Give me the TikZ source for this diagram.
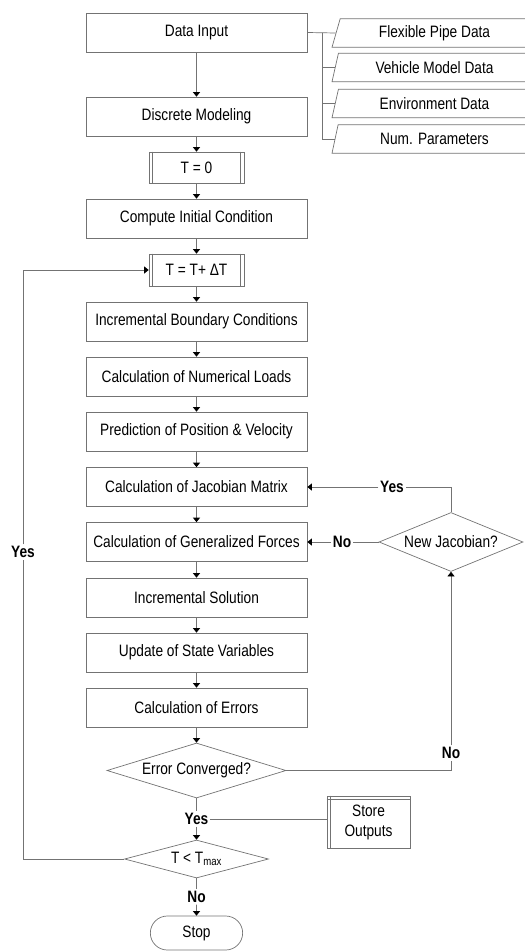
\documentclass[tikz,border=0pt]{standalone}
\usepackage{fontspec}
\setmainfont{Liberation Sans}[FakeStretch=0.83]
\usetikzlibrary{arrows.meta}
\usetikzlibrary{shapes.geometric, shapes.misc, positioning}

\begin{document}
\begin{tikzpicture}[x=1pt,y=-1pt,>={Triangle[length=4.5pt,width=7pt,black]},
                line width=0.7pt,
                every node/.style={font=\fontsize{16.5}{20}\selectfont},
                procbox/.style={rectangle,draw=black!55,minimum width=221pt,minimum height=39pt,inner sep=0pt},
                predef/.style={rectangle,draw=black!55,minimum width=95pt,minimum height=31pt,inner sep=0pt},
                decision/.style={diamond,draw=black!55,inner sep=0pt},
                datain/.style={trapezium,trapezium left angle=62,trapezium right angle=118,
                    trapezium stretches body,draw=black!55,minimum width=205pt,minimum height=28.5pt,inner sep=0pt},
                answer/.style={font=\fontsize{16.5}{20}\selectfont\bfseries,fill=white,inner sep=1.5pt},
                line/.style={draw=black!55},
                flow/.style={draw=black!55,->}]
                \useasboundingbox (0,0) rectangle (525,951);

                % Define the steps as nodes
                \node[procbox] (input)    at (196.5,32.5)  {Data Input};
                \node[procbox] (discrete) at (196.5,116.5) {Discrete Modeling};
                \node[predef]  (tzero)    at (196.5,167.5) {T = 0};
                \node[procbox] (initcond) at (196.5,218.5) {Compute Initial Condition};
                \node[predef, minimum height=32pt] (tstep) at (196.5,270) {T = T+ ΔT};
                \node[procbox] (bound)    at (196.5,321.5) {Incremental Boundary Conditions};
                \node[procbox] (loads)    at (196.5,376.5) {Calculation of Numerical Loads};
                \node[procbox] (predict)  at (196.5,431.5) {Prediction of Position \& Velocity};
                \node[procbox] (jacob)    at (196.5,487)   {Calculation of Jacobian Matrix};
                \node[procbox] (forces)   at (196.5,542)   {Calculation of Generalized Forces};
                \node[procbox] (incsol)   at (196.5,597.5) {Incremental Solution};
                \node[procbox] (update)   at (196.5,652.5) {Update of State Variables};
                \node[procbox] (errors)   at (196.5,707.5) {Calculation of Errors};
                \node[decision, minimum width=179pt, minimum height=55pt, aspect=3.25] (conv) at (196.5,770.5) {Error Converged?};
                \node[decision, minimum width=144pt, minimum height=38pt, aspect=3.8] (tmax) at (196.5,859) {T < T\textsubscript{max}};
                \node[rounded rectangle, draw=black!55, minimum width=99pt, minimum height=34pt] (stop) at (196.5,933) {Stop};
                \node[decision, minimum width=144pt, minimum height=59pt, aspect=2.44] (newjac) at (451,542) {New Jacobian?};
                \node[rectangle, draw=black!55, minimum width=83pt, minimum height=52pt, align=center] (store) at (368.5,822) {Store\\Outputs};

                % Input data
                \node[datain] (pipe)    at (434.5,33)    {Flexible Pipe Data};
                \node[datain] (vehicle) at (434.5,67.5)  {Vehicle Model Data};
                \node[datain] (environ) at (434.5,103.5) {Environment Data};
                \node[datain] (params)  at (434.5,139)   {Num. Parameters};
                \coordinate (branch) at (322,32.5);

                % Answers
                \node[answer] (yesconv) at (196.5,819) {Yes};
                \node[answer] (notmax)  at (196.5,897) {No};
                \node[answer] (yesloop) at (23,552)    {Yes};
                \node[answer] (yesjac)  at (392,487)   {Yes};
                \node[answer] (nojac)   at (342,542)   {No};
                \node[answer] (noconv)  at (451,753)   {No};

                % Double side lines of the predefined steps
                \foreach \n in {tzero, tstep} {
                    \draw[line] ([xshift=4pt]\n.north west) -- ([xshift=4pt]\n.south west);
                    \draw[line] ([xshift=-4pt]\n.north east) -- ([xshift=-4pt]\n.south east);
                }
                \draw[line] ([yshift=-4pt]store.north west) -- ([yshift=-4pt]store.north east);
                \draw[line] ([xshift=4pt]store.north west) -- ([xshift=4pt]store.south west);

                % Connect the steps with arrows
                \draw[line] (input.east) -- (pipe.west);
                \draw[line] (branch) |- (vehicle.west);
                \draw[line] (branch) |- (environ.west);
                \draw[line] (branch) |- (params.west);

                \draw[flow] (input) -- (discrete);
                \draw[flow] (discrete) -- (tzero);
                \draw[flow] (tzero) -- (initcond);
                \draw[flow] (initcond) -- (tstep);
                \draw[flow] (tstep) -- (bound);
                \draw[flow] (bound) -- (loads);
                \draw[flow] (loads) -- (predict);
                \draw[flow] (predict) -- (jacob);
                \draw[flow] (jacob) -- (forces);
                \draw[flow] (forces) -- (incsol);
                \draw[flow] (incsol) -- (update);
                \draw[flow] (update) -- (errors);
                \draw[flow] (errors) -- (conv);

                \draw[line] (conv) -- (yesconv);
                \draw[flow] (yesconv) -- (tmax);
                \draw[line] (yesconv.east) -- (yesconv.east -| store.west);
                \draw[line] (tmax) -- (notmax);
                \draw[flow] (notmax) -- (stop);

                \draw[line] (tmax.west) -| (yesloop.south);
                \draw[flow] (yesloop.north) |- (tstep.west);

                \draw[line] (conv.east) -| (noconv.south);
                \draw[flow] (noconv.north) -- (newjac.south);
                \draw[line] (newjac.north) |- (yesjac.east);
                \draw[flow] (yesjac.west) -- (jacob.east);
                \draw[line] (newjac.west) -- (nojac.east);
                \draw[flow] (nojac.west) -- (forces.east);

            \end{tikzpicture}
\end{document}
